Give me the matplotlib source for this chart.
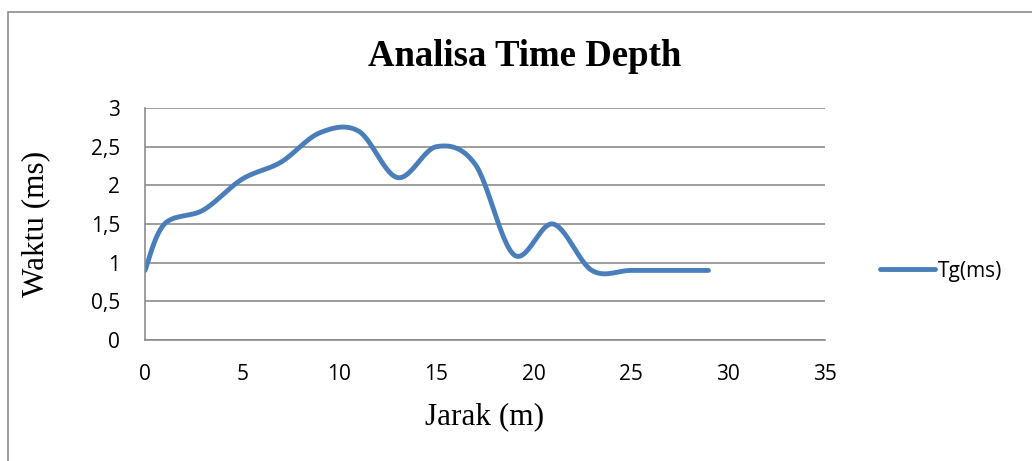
import numpy as np
import matplotlib
matplotlib.use("Agg")
import matplotlib.pyplot as plt
from matplotlib.patches import Rectangle

# data
jarak = [0, 1, 3, 5, 7, 9, 11, 13, 15, 17, 19, 21, 23, 25, 27, 29]
tg_ms = [0.9, 1.5, 1.68, 2.08, 2.3, 2.68, 2.7, 2.1, 2.5, 2.27, 1.1, 1.5, 0.9, 0.9, 0.9, 0.9]
x_ticks = [0, 5, 10, 15, 20, 25, 30, 35]
y_ticks = [0, 0.5, 1, 1.5, 2, 2.5, 3]
y_labels = ["0", "0,5", "1", "1,5", "2", "2,5", "3"]


def smooth(xs, ys, n=30):
    # Excel-style smoothed line: cubic Bezier with Catmull-Rom control points
    p = np.column_stack([xs, ys]).astype(float)
    out = []
    for i in range(len(p) - 1):
        p0 = p[i - 1] if i > 0 else p[i]
        p1, p2 = p[i], p[i + 1]
        p3 = p[i + 2] if i + 2 < len(p) else p[i + 1]
        c1 = p1 + (p2 - p0) / 6
        c2 = p2 - (p3 - p1) / 6
        t = np.linspace(0, 1, n)[:, None]
        seg = ((1 - t) ** 3) * p1 + 3 * ((1 - t) ** 2) * t * c1 + 3 * (1 - t) * t ** 2 * c2 + t ** 3 * p2
        out.append(seg if i == 0 else seg[1:])
    seg = np.vstack(out)
    return seg[:, 0], seg[:, 1]


fig = plt.figure(figsize=(10.32, 4.61), dpi=100)
fig.patches.append(Rectangle((8 / 1032, -0.05), 1.2, 1 - 12 / 461 + 0.05, transform=fig.transFigure,
                             fill=False, edgecolor="#8c8c8c", linewidth=1.2))

ax = fig.add_axes([145 / 1032, 1 - 340 / 461, 680 / 1032, 232 / 461])
sx, sy = smooth(jarak, tg_ms)
ax.plot(sx, sy, color="#4a7ebb", linewidth=3.5, solid_capstyle="round", label="Tg(ms)")

ax.set_xlim(0, 35)
ax.set_ylim(0, 3)
ax.set_xticks(x_ticks)
ax.set_yticks(y_ticks)
ax.set_yticklabels(y_labels)
ax.yaxis.grid(True, color="#8c8c8c", linewidth=1.2)
ax.set_axisbelow(True)
for s in ["top", "right"]:
    ax.spines[s].set_visible(False)
for s in ["left", "bottom"]:
    ax.spines[s].set_color("#8c8c8c")
    ax.spines[s].set_linewidth(1.2)
ax.tick_params(length=0, labelsize=15)
ax.tick_params(axis="y", pad=18)
ax.tick_params(axis="x", pad=17)
for lab in ax.get_xticklabels() + ax.get_yticklabels():
    lab.set_family("Open Sans")

fig.text(525 / 1032, 1 - 57 / 461, "Analisa Time Depth", ha="center", va="center",
         family="Liberation Serif", fontweight="bold", fontsize=26.5)
fig.text(485 / 1032, 1 - 417 / 461, "Jarak (m)", ha="center", va="center",
         family="Liberation Serif", fontsize=22.5)
fig.text(36 / 1032, 1 - 224 / 461, "Waktu (ms)", ha="center", va="center", rotation=90,
         family="Liberation Serif", fontsize=22.5)

ax.legend(loc="center left", bbox_to_anchor=((872 - 145) / 680, (340 - 271) / 232), frameon=False,
          handlelength=2.6, prop={"family": "Open Sans", "size": 15}, handletextpad=0.15,
          borderaxespad=0)

fig.savefig("out.png", dpi=100)
